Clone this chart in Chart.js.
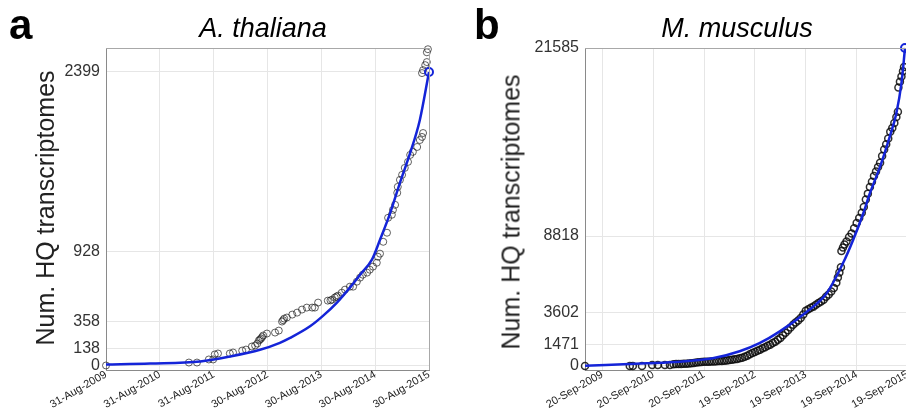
<!DOCTYPE html>
<html>
<head>
<meta charset="utf-8">
<script src="https://cdn.jsdelivr.net/npm/chart.js@4"></script>
<style>
  html, body { margin: 0; padding: 0; background: #fff; }
  #wrap { position: relative; width: 906px; height: 411px; overflow: hidden; font-family: "Liberation Sans", Arial, sans-serif; }
  canvas { position: absolute; top: 0; }
  .lbl { position: absolute; white-space: nowrap; color: #000; }
  .panel { font-weight: bold; font-size: 42px; }
  .ttl { font-style: italic; font-size: 27px; transform: translateX(-50%); }
  .ylab { font-size: 25px; color: #222; transform: translate(-50%, -50%) rotate(-90deg); }
</style>
</head>
<body>
<div id="wrap">
  <canvas id="chart-a" width="450" height="411" style="left:0"></canvas>
  <canvas id="chart-b" width="505" height="411" style="left:455px"></canvas>
  <div class="lbl panel" style="left:9px;top:1px">a</div>
  <div class="lbl panel" style="left:474px;top:1px">b</div>
  <div class="lbl ttl" style="left:263px;top:13px">A. thaliana</div>
  <div class="lbl ttl" style="left:737px;top:13px">M. musculus</div>
  <div class="lbl ylab" style="left:45px;top:208px">Num. HQ transcriptomes</div>
  <div class="lbl ylab" style="left:511px;top:212px">Num. HQ transcriptomes</div>
</div>
<script>
// x values are years after the first tick date
const a_tick_labels = ["31-Aug-2009", "31-Aug-2010", "31-Aug-2011", "30-Aug-2012", "30-Aug-2013", "30-Aug-2014", "30-Aug-2015"]
const a_y_ticks = [0, 138, 358, 928, 2399]
const a_pts_x = [0.00, 1.54, 1.69, 1.91, 1.99, 2.02, 2.08, 2.30, 2.36, 2.53, 2.60, 2.71, 2.77, 2.81, 2.84, 2.86, 2.88, 2.90, 2.92, 2.99,
  3.14, 3.21, 3.27, 3.29, 3.31, 3.36, 3.46, 3.55, 3.64, 3.73, 3.83, 3.88, 3.94, 4.12, 4.17, 4.20, 4.25, 4.28, 4.31, 4.38, 4.44, 4.53, 4.59,
  4.66, 4.72, 4.77, 4.85, 4.90, 4.96, 5.03, 5.05, 5.09, 5.15, 5.22, 5.24, 5.31, 5.33, 5.37, 5.41, 5.42, 5.46, 5.50, 5.55,
  5.61, 5.65, 5.70, 5.78, 5.83, 5.87, 5.89, 5.87, 5.89, 5.93, 5.96, 5.96, 5.98]
const a_pts_y = [0, 24, 24, 49, 49, 90, 98, 98, 106, 122, 130, 155, 163, 179, 204, 212, 220, 232, 245, 261,
  269, 285, 359, 370, 383, 392, 416, 432, 457, 473, 473, 473, 514, 530, 532, 538, 555, 563, 571, 595, 620, 644, 644,
  685, 718, 742, 759, 783, 808, 840, 889, 914, 1011, 1085, 1207, 1232, 1272, 1313, 1411, 1460, 1517, 1558, 1615,
  1664, 1721, 1746, 1786, 1843, 1868, 1900, 2390, 2414, 2455, 2480, 2560, 2585]
const a_fit_x = [0.00, 0.82, 1.75, 2.30, 2.86, 3.23, 3.42, 3.79, 4.03, 4.29, 4.53, 4.72, 4.94, 5.09, 5.28, 5.46, 5.65, 5.83, 6.00]
const a_fit_y = [8, 16, 33, 73, 128, 185, 225, 320, 405, 514, 636, 742, 865, 1028, 1248, 1493, 1737, 2007, 2399]

const b_tick_labels = ["20-Sep-2009", "20-Sep-2010", "20-Sep-2011", "19-Sep-2012", "19-Sep-2013", "19-Sep-2014", "19-Sep-2015"]
const b_y_ticks = [0, 1471, 3602, 8818, 21585]
const b_pts_x = [-0.34, 0.54, 0.60, 0.78, 0.98, 1.09, 1.23, 1.33,
  1.40, 1.45, 1.50, 1.55, 1.60, 1.65, 1.70, 1.75, 1.80, 1.85, 1.90, 1.95, 2.00, 2.05, 2.10, 2.15, 2.20, 2.25, 2.30, 2.35,
  2.40, 2.45, 2.50, 2.55, 2.60, 2.65, 2.70, 2.75, 2.80, 2.85, 2.90, 2.95, 3.00, 3.05, 3.10, 3.15, 3.20, 3.25, 3.30, 3.35,
  3.40, 3.45, 3.50, 3.55, 3.60, 3.65, 3.70, 3.75, 3.80, 3.85, 3.90, 3.95, 4.00, 4.05, 4.10, 4.15, 4.20, 4.25, 4.30, 4.35,
  4.40, 4.45, 4.50, 4.55, 4.60, 4.63, 4.66, 4.69, 4.70, 4.73, 4.76, 4.80, 4.85, 4.90, 4.95, 5.00, 5.05, 5.10, 5.14, 5.18,
  5.22, 5.26, 5.30, 5.34, 5.38, 5.42, 5.46, 5.50, 5.54, 5.58, 5.62, 5.66, 5.70, 5.74, 5.78, 5.81, 5.82, 5.85, 5.88, 5.91, 5.93]
const b_pts_y = [0, 0, 0, 0, 68, 68, 68, 68,
  120, 130, 140, 140, 150, 160, 175, 190, 210, 240, 260, 270, 280, 290, 295, 300, 310, 325, 340, 345,
  355, 370, 400, 420, 450, 480, 520, 560, 620, 700, 800, 880, 950, 1030, 1100, 1200, 1280, 1370, 1450, 1560,
  1650, 1780, 1900, 2080, 2250, 2420, 2620, 2800, 2950, 3080, 3250, 3500, 3750, 3850, 3950, 4030, 4150, 4280, 4380, 4500,
  4700, 4850, 5050, 5300, 5650, 6000, 6350, 6700, 7800, 8050, 8250, 8450, 8750, 9000, 9350, 9700, 10050, 10400, 10800, 11300,
  11700, 12150, 12500, 12900, 13200, 13500, 13800, 14250, 14700, 15050, 15450, 15900, 16150, 16500, 16900, 17250, 18900, 19300, 19650, 20000, 20300]
const b_fit_x = [-0.34, 0.88, 1.52, 2.17, 2.70, 3.09, 3.49, 4.02, 4.41, 4.73, 4.93, 5.13, 5.26, 5.46, 5.65, 5.78, 5.88, 5.95]
const b_fit_y = [10, 180, 290, 520, 1000, 1550, 2350, 3687, 4936, 6973, 8555, 10368, 11726, 13532, 15569, 17158, 19195, 21585]

const FONT = '"Liberation Sans", Arial, sans-serif'
const BLUE = '#1424d8'

const boxPlugin = {
  id: 'box',
  afterDraw(chart) {
    const { ctx, chartArea: c } = chart
    ctx.save()
    ctx.strokeStyle = '#a8a8a8'
    ctx.lineWidth = 1
    ctx.beginPath()
    ctx.moveTo(c.left, c.top + 0.5)
    ctx.lineTo(c.right + 0.5, c.top + 0.5)
    ctx.lineTo(c.right + 0.5, c.bottom)
    ctx.stroke()
    ctx.restore()
  }
}

const toPts = (xs, ys) => xs.map((x, i) => ({ x: x, y: ys[i] }))

const createPanel = (el_id, opts) => {
  const fit = toPts(opts.fit_x, opts.fit_y)
  new Chart(document.getElementById(el_id), {
    type: 'scatter',
    data: {
      datasets: [{
          data: toPts(opts.pts_x, opts.pts_y),
          borderColor: opts.pt_color,
          backgroundColor: 'rgba(0,0,0,0)',
          borderWidth: opts.pt_width,
          pointRadius: 3.5,
          clip: false,
          order: 2
        }, {
          data: fit,
          showLine: true,
          borderColor: BLUE,
          borderWidth: 2.5,
          cubicInterpolationMode: 'monotone',
          pointRadius: ctx => ctx.dataIndex === fit.length - 1 ? 4 : 0,
          pointBorderColor: BLUE,
          pointBorderWidth: 2,
          pointBackgroundColor: 'rgba(0,0,0,0)',
          clip: false,
          order: 1
        }
      ]
    },
    options: {
      responsive: false,
      animation: false,
      layout: { padding: { left: 0, top: 48, right: opts.pad_right, bottom: 0 } },
      plugins: { legend: { display: false }, tooltip: { enabled: false } },
      scales: {
        x: {
          type: 'linear',
          min: opts.x_min,
          max: opts.x_max,
          afterBuildTicks: s => { s.ticks = opts.tick_labels.map((_, i) => ({ value: i })) },
          afterFit: s => { s.height = 41 },
          grid: { color: '#e6e6e6', drawTicks: false },
          border: { color: '#8a8a8a' },
          ticks: {
            autoSkip: false,
            minRotation: 30,
            maxRotation: 30,
            padding: -2,
            color: '#222',
            font: { family: FONT, size: 11 },
            callback: (v, i) => opts.tick_labels[i]
          }
        },
        y: {
          min: opts.y_min,
          max: opts.y_max,
          afterBuildTicks: s => { s.ticks = opts.y_ticks.map(v => ({ value: v })) },
          afterFit: s => { s.width = opts.y_width },
          grid: { color: '#e6e6e6', drawTicks: false },
          border: { color: '#8a8a8a' },
          ticks: {
            padding: 6,
            color: '#333',
            font: { family: FONT, size: 16 },
            callback: v => String(v)
          }
        }
      }
    },
    plugins: [boxPlugin]
  })
}

createPanel('chart-a', {
  pts_x: a_pts_x, pts_y: a_pts_y, fit_x: a_fit_x, fit_y: a_fit_y,
  tick_labels: a_tick_labels, y_ticks: a_y_ticks,
  x_min: 0, x_max: 6, y_min: -37, y_max: 2595,
  y_width: 106, pad_right: 21,
  pt_color: 'rgba(30,30,30,0.7)', pt_width: 1
})

createPanel('chart-b', {
  pts_x: b_pts_x, pts_y: b_pts_y, fit_x: b_fit_x, fit_y: b_fit_y,
  tick_labels: b_tick_labels, y_ticks: b_y_ticks,
  x_min: -0.34, x_max: 6.5, y_min: -272, y_max: 21585,
  y_width: 130, pad_right: 27,
  pt_color: 'rgba(10,10,10,0.85)', pt_width: 1.5
})
</script>
</body>
</html>
